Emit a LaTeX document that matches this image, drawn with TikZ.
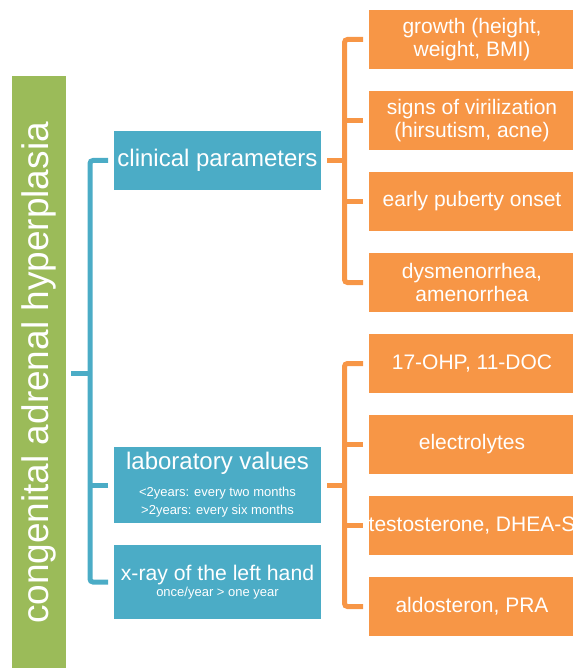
\documentclass[tikz,border=0pt]{standalone}
\usepackage{fontspec}
\setmainfont{Liberation Sans}
\usepackage{tikz}
\definecolor{cahgreen}{HTML}{9BBB59}
\definecolor{cahblue}{HTML}{4BACC6}
\definecolor{cahorange}{HTML}{F79646}
\begin{document}
\begin{tikzpicture}[x=1pt,y=-1pt,
    bluebox/.style={fill=cahblue,text=white,minimum width=207pt,inner sep=0pt,outer sep=0pt,align=center,font=\fontsize{24}{26}\selectfont},
    orangebox/.style={fill=cahorange,text=white,minimum width=206pt,minimum height=59pt,inner sep=0pt,outer sep=0pt,align=center,font=\fontsize{21}{22.5}\selectfont},
    bigtext/.style={text=white,inner sep=0pt,font=\fontsize{24}{26}\selectfont},
    smalltext/.style={text=white,align=center,inner sep=0pt,font=\fontsize{13}{18}\selectfont},
    blueline/.style={draw=cahblue,line width=5pt,rounded corners=3pt},
    orangeline/.style={draw=cahorange,line width=5pt,rounded corners=3pt}]
    \useasboundingbox (0,0) rectangle (572,668);
    \node (cah) at (39,373) [rotate=90,fill=cahgreen,text=white,minimum width=594pt,minimum height=54pt,inner sep=0pt,outer sep=0pt,font=\fontsize{37}{40}\selectfont] {congenital adrenal hyperplasia};

    \node (clin) at (217.5,160.5) [bluebox,minimum height=59pt] {clinical parameters};
    \node (lab) at (217.5,485) [bluebox,minimum height=76pt] {};
    \node (labtitle) at (217.5,463) [bigtext] {laboratory values};
    \node (labsub) at (217.5,502) [smalltext] {<2years: every two months\\>2years: every six months};
    \node (xray) at (217.5,582) [bluebox,minimum height=74pt] {};
    \node (xraytitle) at (217.5,575) [bigtext,font=\fontsize{21.2}{23}\selectfont] {x-ray of the left hand};
    \node (xraysub) at (217.5,593) [smalltext] {once/year > one year};

    \node (growth) at (472,39.5) [orangebox] {growth (height,\\weight, BMI)};
    \node (viril) at (472,120.5) [orangebox] {signs of virilization\\(hirsutism, acne)};
    \node (puberty) at (472,201.5) [orangebox] {early puberty onset};
    \node (dysmen) at (472,282.5) [orangebox] {dysmenorrhea,\\amenorrhea};
    \node (ohp) at (472,363.5) [orangebox] {17-OHP, 11-DOC};
    \node (electro) at (472,444.5) [orangebox] {electrolytes};
    \node (testo) at (472,525.5) [orangebox] {testosterone, DHEA-S};
    \node (aldo) at (472,606.5) [orangebox] {aldosteron, PRA};

    \draw [blueline] ([xshift=5pt]cah.south) -- ([xshift=24pt]cah.south);
    \draw [blueline] ([xshift=-6pt]clin.west) -| ([xshift=-24pt]xray.west) -- ([xshift=-6pt]xray.west);
    \draw [blueline] ([xshift=-6pt]lab.west) -- ([xshift=-24pt]lab.west);

    \draw [orangeline] ([xshift=6pt]clin.east) -- ([xshift=-24.5pt]growth.west |- clin.east);
    \draw [orangeline] ([xshift=-6pt]growth.west) -| ([xshift=-24.5pt]dysmen.west) -- ([xshift=-6pt]dysmen.west);
    \draw [orangeline] ([xshift=-6pt]viril.west) -- ([xshift=-24.5pt]viril.west);
    \draw [orangeline] ([xshift=-6pt]puberty.west) -- ([xshift=-24.5pt]puberty.west);

    \draw [orangeline] ([xshift=6pt]lab.east) -- ([xshift=-24.5pt]ohp.west |- lab.east);
    \draw [orangeline] ([xshift=-6pt]ohp.west) -| ([xshift=-24.5pt]aldo.west) -- ([xshift=-6pt]aldo.west);
    \draw [orangeline] ([xshift=-6pt]electro.west) -- ([xshift=-24.5pt]electro.west);
    \draw [orangeline] ([xshift=-6pt]testo.west) -- ([xshift=-24.5pt]testo.west);
\end{tikzpicture}
\end{document}
